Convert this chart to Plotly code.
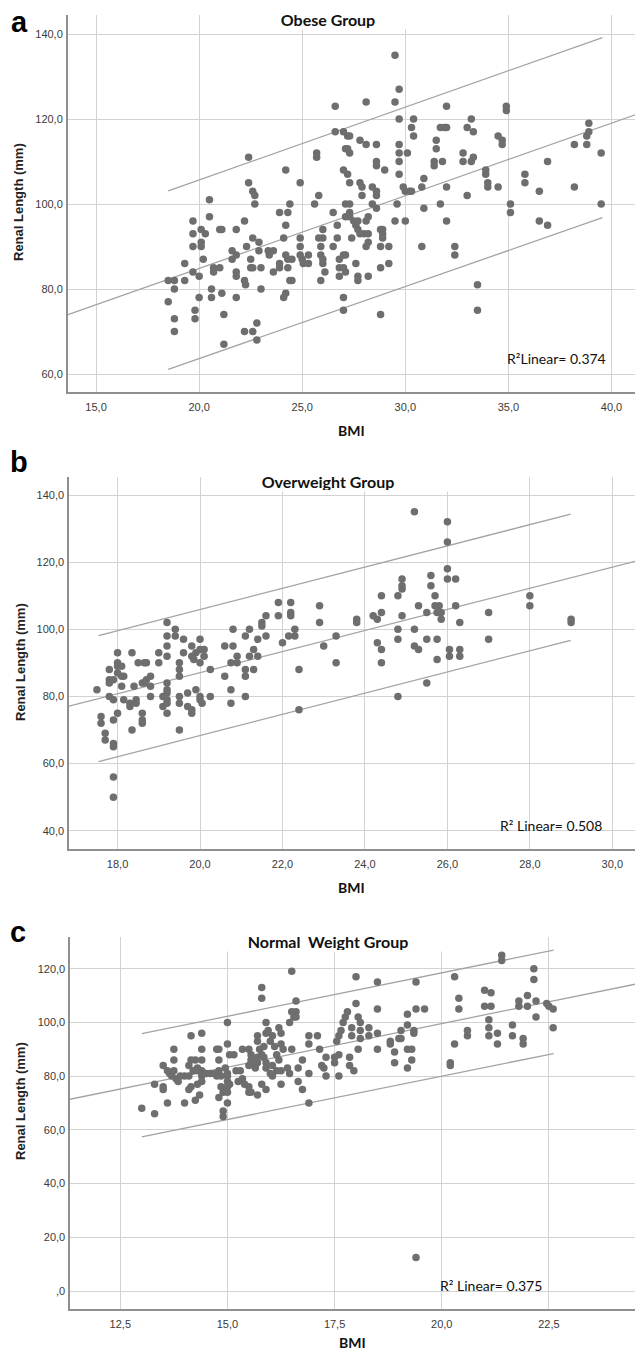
import plotly.graph_objects as go

# ---------------- DATA ----------------
# Panel a: Obese group  (BMI, renal length mm)
a_pts = [
    (29.5,135),(26.6,123),(28.1,124),(29.5,124),(29.7,127),(29.7,120),(22.4,111),(26.6,117),
    (27.0,117),(27.2,116),(27.3,116),(27.8,115),(28.1,114),(28.6,114),(27.1,113),(27.2,113),
    (27.3,112),(25.7,112),(25.7,111),(24.2,108),(27.0,108),(27.2,107),(27.3,105),(28.6,110),
    (28.6,109),(29.0,108),(29.7,114),(29.7,112),(29.7,110),(29.7,107),(22.4,105),(22.6,103),
    (22.7,102),(22.7,100),(24.9,105),(25.8,102),(25.6,100),(27.8,105),(27.9,104),(27.9,102),
    (28.4,104),(28.6,103),(28.6,102),(20.5,101),(20.5,97),(19.7,96),(19.7,93),(20.1,94),
    (20.3,93),(19.7,90),(20.1,91),(20.1,90),(21.0,94),(21.1,94),(21.8,94),(22.2,96),
    (19.3,86),(19.7,84),(20.0,83),(18.5,82),(18.8,82),(18.8,80),(19.3,82),(18.5,77),
    (18.8,73),(18.8,70),(19.8,75),(19.8,73),(20.0,78),(20.2,87),(20.7,85),(20.7,84),
    (21.0,85),(20.6,80),(20.6,78),(21.1,79),(21.2,74),(21.2,67),(21.8,78),(22.2,82),
    (22.25,81),(22.2,70),(22.6,70),(22.8,72),(22.8,68),(21.6,89),(21.6,87),(21.8,88),
    (21.8,84),(21.8,83),(22.3,90),(22.6,92),(22.9,91),(22.9,89),(22.5,87),(22.5,85),
    (22.6,85),(23.0,85),(23.0,80),(23.9,98),(24.3,98),(24.4,100),(24.2,95),(24.1,92),
    (23.35,89),(23.6,89),(23.4,88),(23.9,86),(23.9,85),(23.6,84),(24.2,88),(24.3,87),
    (24.5,87),(24.3,85),(24.4,82),(24.5,82),(24.2,79),(24.1,78),(24.9,92),(24.9,90),
    (24.9,88),(25.0,87),(25.05,86),(25.3,88),(25.3,86),(25.8,92),(26.0,92),(26.0,94),
    (25.9,90),(25.9,88),(26.0,87),(26.0,86),(26.1,84),(25.9,82),(26.5,98),(26.7,95),
    (26.7,92),(26.5,90),(27.1,100),(27.3,100),(27.3,98),(27.1,97),(27.3,97),(27.5,96),
    (27.6,95),(27.7,96),(27.7,94),(27.8,93),(28.0,93),(28.2,93),(28.1,96),(28.2,97),
    (28.4,100),(28.6,99),(28.8,94),(28.9,94),(28.9,93),(28.9,92),(27.4,92),(28.1,90),
    (28.2,91),(28.8,90),(29.2,90),(26.8,87),(27.0,88),(27.1,88),(27.0,85),(26.8,85),
    (26.8,83),(27.1,84),(27.6,86),(27.7,83),(27.7,82),(28.2,83),(28.8,85),(29.2,86),
    (27.0,78),(27.0,75),(28.8,74),(29.6,100),(29.5,96),
    (30.1,112),(29.9,104),(30.0,103),(30.2,103),(30.3,103),(30.4,120),(30.3,118),(30.4,116),
    (30.9,106),(30.8,104),(30.9,99),(30.0,96),(30.8,90),(32.0,123),(31.7,118),(31.9,118),
    (32.0,118),(31.5,115),(31.5,113),(31.4,110),(31.4,109),(31.8,110),(32.0,104),(31.7,100),
    (32.0,96),(32.4,90),(32.4,88),(33.0,118),(33.2,120),(33.3,117),(32.8,112),(32.8,110),
    (33.2,110),(33.3,111),(33.0,102),(33.9,108),(33.9,107),(34.0,105),(34.0,104),(34.5,104),
    (34.5,116),(34.7,115),(34.7,114),(34.9,123),(34.9,122),(35.1,100),(35.1,98),(33.5,81),
    (33.5,75),(35.8,107),(35.8,105),(36.5,103),(36.9,110),(36.5,96),(36.9,95),(38.2,114),
    (38.2,104),(38.8,114),(38.8,116),(38.9,117),(38.9,119),(39.5,112),(39.5,100),
]
# Panel b: Overweight group
b_pts = [
    (17.5,82),(17.6,74),(17.6,72),(17.7,69),(17.7,67),(17.8,85),(17.8,84),(17.8,88),
    (17.9,85),(17.8,80),(17.9,79),(17.9,73),(17.9,66),(17.9,65),(17.9,56),(17.9,50),
    (18.0,75),(18.0,93),(18.0,90),(18.0,89),(18.1,89),(18.0,87),(18.1,86),(18.15,86),
    (18.1,83),(18.15,79),(18.35,93),(18.4,83),(18.3,78),(18.3,77),(18.45,79),(18.45,78),
    (18.35,70),(18.5,90),(18.6,75),(18.6,73),(18.6,72),(18.6,84),(18.65,84),(18.7,85),
    (18.8,86),(18.65,90),(18.7,90),(18.8,83),(18.8,80),(19.0,93),(19.0,90),(19.2,102),
    (19.2,98),(19.2,95),(19.2,92),(19.2,84),(19.2,82),(19.2,81),(19.1,80),(19.2,79),
    (19.1,77),(19.2,78),(19.2,75),(19.4,100),(19.4,98),(19.5,90),(19.5,88),(19.5,86),
    (19.5,80),(19.5,78),(19.5,70),(19.6,97),(19.6,93),(19.7,81),(19.7,77),(19.8,76),
    (19.8,75),(19.8,95),(19.8,92),(19.85,91),(19.9,93),(19.9,82),(20.0,80),(20.0,79),
    (20.05,78),(20.0,97),(20.0,94),(20.0,90),(20.1,94),(20.1,92),(20.25,88),(20.25,80),
    (20.6,95),(20.6,86),(20.75,82),(20.75,78),(20.8,100),(20.8,95),(20.75,90),(20.9,92),
    (20.9,90),(21.1,98),(21.1,88),(21.1,86),(21.1,80),(21.2,100),(21.2,92),(21.3,94),
    (21.3,88),(21.4,97),(21.4,92),(21.5,102),(21.5,101),(21.6,104),(21.6,98),(21.9,108),
    (21.9,104),(22.0,96),(22.2,108),(22.2,105),(22.2,104),(22.15,98),(22.3,98),(22.3,100),
    (22.4,88),(22.4,76),(22.9,107),(22.9,102),(23.0,95),
    (23.3,98),(23.3,90),(23.8,103),(23.8,102),(24.2,104),(24.3,103),(24.4,110),(24.4,105),
    (24.3,96),(24.4,94),(24.4,90),(24.8,110),(24.8,100),(24.8,97),(24.8,80),(24.9,115),
    (24.9,113),(24.9,112),(24.9,104),(25.2,135),(25.2,100),(25.2,95),(25.3,94),(25.3,107),
    (25.5,105),(25.5,97),(25.5,84),(25.6,116),(25.6,113),(25.7,110),(25.7,107),(25.8,107),
    (25.75,105),(25.85,105),(25.85,103),(25.75,97),(25.75,91),(26.0,132),(26.0,126),(26.0,118),
    (26.0,115),(26.2,115),(26.2,107),(26.05,94),(26.05,92),(26.3,102),(26.3,94),(26.3,92),
    (27.0,105),(27.0,97),(28.0,110),(28.0,107),(29.0,103),(29.0,102),
]
# Panel c: Normal weight group
c_pts = [
    (13.0,68),(13.3,66),(13.3,77),(13.5,84),(13.5,76),(13.5,75),(13.6,70),(13.6,82),
    (13.65,81),(13.7,80),(13.75,82),(13.8,79),(13.75,90),(13.75,86),(13.85,78),(13.9,80),
    (14.0,80),(14.1,80),(14.0,70),(14.15,95),(14.4,96),(14.15,86),(14.25,86),(14.4,86),
    (14.1,84),(14.3,83),(14.2,82),(14.3,82),(14.4,82),(14.4,80),(14.4,78),(14.3,77),
    (14.15,76),(14.1,75),(14.35,73),(14.25,71),(14.4,90),(14.5,81),(14.6,81),(14.7,81),
    (14.8,82),(14.75,80),(14.85,80),(14.75,90),(14.8,90),(14.8,86),(14.8,72),(14.85,76),
    (14.9,74),(14.9,67),(14.9,65),(15.0,100),(15.0,92),(14.95,83),(15.0,81),(15.0,80),
    (15.0,78),(15.05,77),(15.0,76),(15.0,74),(15.0,70),(15.05,88),(15.15,88),(15.2,82),
    (15.3,82),(15.25,78),(15.35,79),(15.4,77),(15.5,76),(15.5,74),(15.55,74),(15.35,90),
    (15.5,90),(15.55,88),(15.55,86),(15.5,84),(15.6,85),(15.65,83),(15.7,85),(15.7,87),
    (15.7,93),(15.7,95),(15.75,90),(15.8,88),(15.85,91),(15.85,87),(15.9,85),(15.9,83),
    (15.8,113),(15.8,109),(15.9,100),(15.9,96),(15.95,97),(16.0,93),(15.7,73),(15.8,77),
    (15.9,75),(16.0,81),(16.05,80),(16.05,84),(16.05,95),(16.1,91),(16.15,88),(16.2,98),
    (16.25,96),(16.25,92),(16.3,90),(16.2,86),(16.15,82),(16.25,82),(16.25,77),(16.45,100),
    (16.5,104),(16.55,102),(16.6,104),(16.6,102),(16.5,119),(16.6,108),(16.5,90),(16.4,83),
    (16.45,81),(16.65,83),(16.75,86),(16.65,78),(16.75,75),(16.9,95),(17.1,95),(16.9,92),
    (17.15,90),(16.9,81),(16.9,70),(17.2,84),(17.25,83),(17.3,87),(17.3,80),(17.5,87),
    (17.5,85),(17.6,88),(17.6,80),(17.55,93),(17.6,95),(17.65,97),(17.7,100),(17.75,102),
    (17.8,104),(17.85,87),(17.85,84),
    (18.0,117),(18.5,115),(19.4,115),(18.0,107),(18.05,102),(18.1,100),(17.9,98),(17.9,95),
    (18.1,97),(18.1,94),(18.3,98),(18.3,95),(18.5,105),(18.5,96),(18.05,90),(18.5,90),
    (17.95,82),(18.8,93),(18.8,92),(18.9,89),(18.9,85),(19.0,94),(19.05,94),(19.05,97),
    (19.2,99),(19.2,103),(19.35,97),(19.35,96),(19.2,90),(19.3,90),(19.3,86),(19.2,83),
    (19.4,105),(19.6,105),(20.3,117),(20.3,92),(20.4,109),(20.4,105),(20.6,97),(20.6,95),
    (20.2,85),(20.2,84),(21.0,112),(21.15,111),(21.0,106),(21.15,106),(21.1,101),(21.1,98),
    (21.1,95),(21.3,96),(21.3,92),(21.4,125),(21.4,123),(21.65,99),(21.65,95),(21.8,108),
    (21.8,106),(22.0,110),(22.0,106),(21.9,94),(21.9,92),(22.15,120),(22.15,116),(22.2,108),
    (22.2,102),(22.45,107),(22.5,106),(22.6,105),(22.6,98),(19.4,12.5),
]

# fit lines: (x at ends, y at ends)
a_fit_x, a_fit_y = [13.6, 41.2], [73.9, 121.1]
a_band_x, a_upper, a_lower = [18.5, 39.56], [103.1, 139.2], [61.1, 96.8]
b_fit_x, b_fit_y = [16.8, 30.6], [77.0, 120.4]
b_band_x, b_upper, b_lower = [17.54, 28.99], [98.1, 134.3], [60.6, 96.7]
c_fit_x, c_fit_y = [11.3, 24.6], [71.3, 114.5]
c_band_x, c_upper, c_lower = [13.0, 22.61], [95.8, 126.9], [57.4, 88.4]

titles = ["Obese Group", "Overweight Group", "Normal  Weight Group"]
letters = ["a", "b", "c"]
r2_texts = ["R²Linear= 0.374", "R² Linear= 0.508", "R² Linear= 0.375"]

a_xticks = [15, 20, 25, 30, 35, 40]
a_xlabels = ["15,0", "20,0", "25,0", "30,0", "35,0", "40,0"]
a_yticks = [60, 80, 100, 120, 140]
a_ylabels = ["60,0", "80,0", "100,0", "120,0", "140,0"]
b_xticks = [18, 20, 22, 24, 26, 28, 30]
b_xlabels = ["18,0", "20,0", "22,0", "24,0", "26,0", "28,0", "30,0"]
b_yticks = [40, 60, 80, 100, 120, 140]
b_ylabels = ["40,0", "60,0", "80,0", "100,0", "120,0", "140,0"]
c_xticks = [12.5, 15, 17.5, 20, 22.5]
c_xlabels = ["12,5", "15,0", "17,5", "20,0", "22,5"]
c_yticks = [0, 20, 40, 60, 80, 100, 120]
c_ylabels = [",0", "20,0", "40,0", "60,0", "80,0", "100,0", "120,0"]

# ---------------- LAYOUT GEOMETRY (page pixels) ----------------
# The page body margin is removed by a small post-script, so figure = page.
W, H = 635, 1353
def fx(p): return p / W
def fy(p): return 1 - p / H

# left, top, bottom of each plot area (px), and axis ranges
geo = [
    dict(left=67.6, top=15.0, bottom=392.3, xr=[13.62, 41.14], yr=[55.7, 144.5]),
    dict(left=68.9, top=476.7, bottom=849.3, xr=[16.82, 30.55], yr=[34.46, 145.45]),
    dict(left=70.0, top=936.7, bottom=1309.3, xr=[11.326, 24.51], yr=[-6.8, 131.9]),
]
title_y = [19.5, 481.0, 941.5]
letter_pos = [(19, 22), (19, 462), (18, 932)]
ytitle_pos = [(18, 202), (20, 662), (20, 1101)]
xtitle_y = [430, 887, 1342]
r2_pos = [(556, 358), (551, 825), (491, 1285)]

pts = [a_pts, b_pts, c_pts]
fits = [(a_fit_x, a_fit_y, a_band_x, a_upper, a_lower),
        (b_fit_x, b_fit_y, b_band_x, b_upper, b_lower),
        (c_fit_x, c_fit_y, c_band_x, c_upper, c_lower)]
ticks = [(a_xticks, a_xlabels, a_yticks, a_ylabels),
         (b_xticks, b_xlabels, b_yticks, b_ylabels),
         (c_xticks, c_xlabels, c_yticks, c_ylabels)]

MARK = "#6e6e6e"
LINE = "#a3a3a3"
GRID = "#d3d3d3"
AXIS = "#8f8f8f"
TICKFONT = dict(family="Liberation Sans, Arial, sans-serif", size=11, color="#3a3a3a")

fig = go.Figure()
annotations = []
layout = {}
for i in range(3):
    g = geo[i]
    xa = "x" if i == 0 else f"x{i+1}"
    ya = "y" if i == 0 else f"y{i+1}"
    fxk = "xaxis" if i == 0 else f"xaxis{i+1}"
    fyk = "yaxis" if i == 0 else f"yaxis{i+1}"
    fx_, fy_, bx, bu, bl = fits[i]
    for xs, ys in [(fx_, fy_), (bx, bu), (bx, bl)]:
        fig.add_trace(go.Scatter(x=xs, y=ys, mode="lines", xaxis=xa, yaxis=ya,
                                 line=dict(color=LINE, width=1.3), hoverinfo="skip",
                                 showlegend=False))
    fig.add_trace(go.Scatter(x=[p[0] for p in pts[i]], y=[p[1] for p in pts[i]],
                             mode="markers", xaxis=xa, yaxis=ya,
                             marker=dict(color=MARK, size=7.5, line=dict(width=0)),
                             showlegend=False))
    xt, xl, yt, yl = ticks[i]
    layout[fxk] = dict(domain=[fx(g["left"]), 1.0], range=g["xr"], anchor=ya,
                       automargin=False,
                       tickvals=xt, ticktext=xl, showgrid=True, gridcolor=GRID, gridwidth=1,
                       zeroline=False, showline=True, linecolor=AXIS, linewidth=1.6,
                       ticks="outside", ticklen=4, tickcolor="rgba(0,0,0,0)",
                       tickfont=TICKFONT, fixedrange=True)
    layout[fyk] = dict(domain=[fy(g["bottom"]), fy(g["top"])], range=g["yr"], anchor=xa,
                       automargin=False,
                       tickvals=yt, ticktext=yl, showgrid=True, gridcolor=GRID, gridwidth=1,
                       zeroline=False, showline=True, linecolor=AXIS, linewidth=1.6,
                       ticks="outside", ticklen=1, tickcolor="rgba(0,0,0,0)",
                       tickfont=TICKFONT, fixedrange=True)
    # group title with white box hiding grid
    annotations.append(dict(text=f"<b>{titles[i]}</b>", x=fx(328), y=fy(title_y[i]),
                            xref="paper", yref="paper", xanchor="center", yanchor="middle",
                            showarrow=False, bgcolor="white", width=250, height=18,
                            font=dict(family="Lato, sans-serif", size=16, color="#111")))
    annotations.append(dict(text=f"<b>{letters[i]}</b>", x=fx(letter_pos[i][0]),
                            y=fy(letter_pos[i][1]), xref="paper", yref="paper",
                            xanchor="center", yanchor="middle", showarrow=False,
                            font=dict(family="Liberation Sans, Arial, sans-serif", size=29,
                                      color="#000")))
    annotations.append(dict(text="<b>Renal Length (mm)</b>", x=fx(ytitle_pos[i][0]),
                            y=fy(ytitle_pos[i][1]), xref="paper", yref="paper",
                            xanchor="center", yanchor="middle", textangle=-90,
                            showarrow=False,
                            font=dict(family="Liberation Sans, Arial, sans-serif", size=13,
                                      color="#222")))
    annotations.append(dict(text="<b>BMI</b>", x=fx((g["left"] + W) / 2), y=fy(xtitle_y[i]),
                            xref="paper", yref="paper", xanchor="center", yanchor="middle",
                            showarrow=False,
                            font=dict(family="Lato, sans-serif", size=14, color="#111")))
    annotations.append(dict(text=r2_texts[i], x=fx(r2_pos[i][0]), y=fy(r2_pos[i][1]),
                            xref="paper", yref="paper", xanchor="center", yanchor="middle",
                            showarrow=False,
                            font=dict(family="Lato, sans-serif", size=14, color="#111")))

fig.update_layout(width=W, height=H, margin=dict(l=0, r=0, t=0, b=0, autoexpand=False),
                  paper_bgcolor="white", plot_bgcolor="white", hovermode=False,
                  showlegend=False, annotations=annotations, **layout)
fig.write_html("out.html",
               config={"displayModeBar": False, "staticPlot": True},
               post_script="document.body.style.margin='0px';document.body.style.overflow='hidden';")
